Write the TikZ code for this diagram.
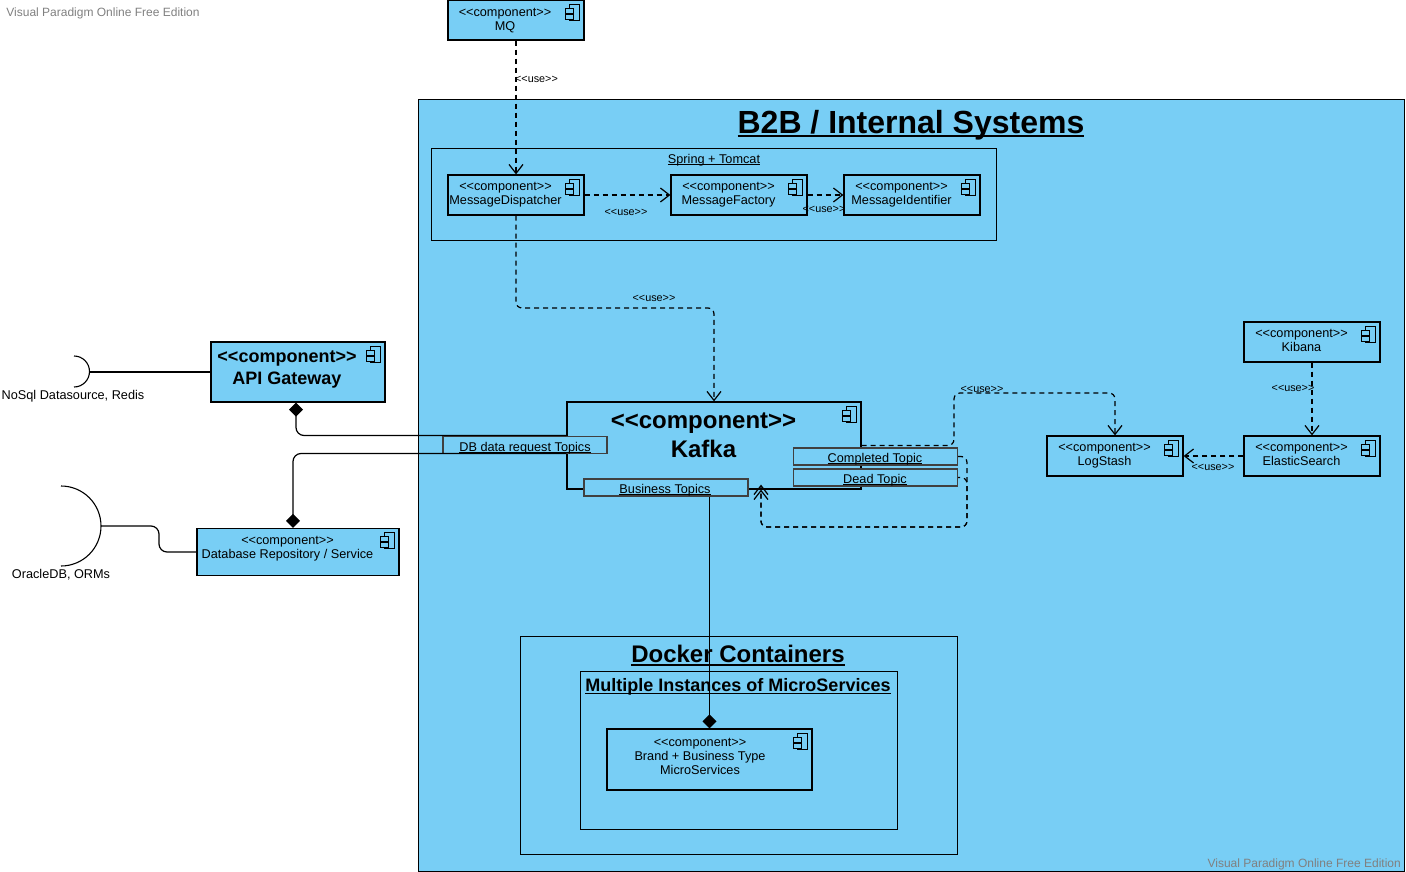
\documentclass[tikz,border=0pt]{standalone}
\usepackage{fontspec}
\setmainfont{Liberation Sans}
\usetikzlibrary{arrows.meta, positioning}
\definecolor{umlblue}{HTML}{78CEF5}
\newcommand{\stereo}[1]{<{}<#1>{}>}
\newsavebox{\headbox}
\newcommand{\heading}[3]{\sbox{\headbox}{#3}\rlap{\smash{\raisebox{-#2}{\rule{\wd\headbox}{#1}}}}\usebox{\headbox}}

\begin{document}
\begin{tikzpicture}[
  x=1pt, y=-1pt,
  frame/.style={rectangle, draw, line width=1pt, fill=umlblue, inner sep=0pt},
  box/.style={frame, line width=1.2pt},
  porta/.style={frame, draw=black!75, line width=1.2pt, minimum width=164pt, minimum height=17pt},
  boxtext/.style={align=center, inner sep=0pt, font=\fontsize{12.7}{14}\selectfont},
  bigtext/.style={align=center, inner sep=0pt, font=\fontsize{18}{22}\bfseries\selectfont},
  hugetext/.style={align=center, inner sep=0pt, font=\fontsize{24}{29}\bfseries\selectfont},
  small/.style={inner sep=0pt, font=\fontsize{10.8}{12}\selectfont},
  marktext/.style={inner sep=0pt, text=black!50, font=\fontsize{12}{14}\selectfont},
  wire/.style={line width=1.2pt, rounded corners=8pt},
  usedep/.style={line width=1.2pt, dash pattern=on 5pt off 4pt, rounded corners=6pt, -{Straight Barb[length=9pt,width=14pt]}},
  compo/.style={wire, {Diamond[length=14pt,width=14pt]}-}
]
\useasboundingbox (0,0) rectangle (1406,872);

% outer frames
\node[frame, minimum width=986pt, minimum height=772pt] (b2b) at (911.5,485.5) {};
\node[frame, minimum width=565pt, minimum height=91.5pt] (spring) at (714,194.5) {};
\node[frame, minimum width=437pt, minimum height=218pt] (docker) at (739,745.5) {};
\node[frame, minimum width=317pt, minimum height=158pt] (multi) at (739,750) {};
\node[inner sep=0pt, font=\fontsize{32}{38}\bfseries\selectfont] (b2btitle) at (911,125) {\heading{2.6pt}{4pt}{B2B / Internal Systems}};
\node[boxtext] (springtitle) at (714,160) {\heading{1pt}{2pt}{Spring + Tomcat}};
\node[hugetext] (dockertitle) at (738,654) {\heading{2pt}{3pt}{Docker Containers}};
\node[bigtext] (multititle) at (738,687) {\heading{1.6pt}{2.5pt}{Multiple Instances of MicroServices}};

% components
\node[box, minimum width=136pt, minimum height=40pt] (mq) at (516,20) {};
\node[box, minimum width=136pt, minimum height=40pt] (dispatcher) at (516,195) {};
\node[box, minimum width=136pt, minimum height=40pt] (factory) at (739,195) {};
\node[box, minimum width=136pt, minimum height=40pt] (identifier) at (912,195) {};
\node[box, minimum width=174pt, minimum height=60pt] (api) at (298,372) {};
\node[box, minimum width=202pt, minimum height=47pt] (repo) at (298,552) {};
\node[box, minimum width=294pt, minimum height=87pt] (kafka) at (714,445.5) {};
\node[box, minimum width=136pt, minimum height=40pt] (kibana) at (1312,342) {};
\node[box, minimum width=136pt, minimum height=40pt] (logstash) at (1115,456) {};
\node[box, minimum width=136pt, minimum height=40pt] (elastic) at (1312,456) {};
\node[box, minimum width=205pt, minimum height=61pt] (micro) at (709.5,759.5) {};

\foreach \n in {mq, dispatcher, factory, identifier, api, repo, kafka, kibana, logstash, elastic, micro} {
  \draw[line width=1pt, shift={(\n.north east)}] (-15,5) rectangle (-5,21);
  \draw[line width=1pt, shift={(\n.north east)}, fill=umlblue] (-19,9) rectangle (-11,14);
  \draw[line width=1pt, shift={(\n.north east)}, fill=umlblue] (-19,15) rectangle (-11,20);
}

\node[boxtext] (mqtext) at (505,20.5) {\stereo{component}\\MQ};
\node[boxtext] (dispatchertext) at (505.5,194.5) {\stereo{component}\\MessageDispatcher};
\node[boxtext] (factorytext) at (728.5,194.5) {\stereo{component}\\MessageFactory};
\node[boxtext] (identifiertext) at (901.5,194.5) {\stereo{component}\\MessageIdentifier};
\node[bigtext] (apitext) at (287,369) {\stereo{component}\\API Gateway};
\node[boxtext] (repotext) at (287.5,548.5) {\stereo{component}\\Database Repository / Service};
\node[hugetext] (kafkatext) at (703.5,435) {\stereo{component}\\Kafka};
\node[boxtext] (kibanatext) at (1301.5,340.5) {\stereo{component}\\Kibana};
\node[boxtext] (logstashtext) at (1104.5,455.5) {\stereo{component}\\LogStash};
\node[boxtext] (elastictext) at (1301.5,454.5) {\stereo{component}\\ElasticSearch};
\node[boxtext] (microtext) at (700,756) {\stereo{component}\\Brand + Business Type\\MicroServices};

% ports on kafka
\node[porta] (dbport) at (525,445) {};
\node[porta] (completed) at (875.5,456.5) {};
\node[porta] (dead) at (875.5,477.5) {};
\node[porta] (business) at (666,487.5) {};
\node[boxtext] (dbporttext) at (525,448) {\heading{1pt}{2pt}{DB data request Topics}};
\node[boxtext] (completedtext) at (875,459) {\heading{1pt}{2pt}{Completed Topic}};
\node[boxtext] (deadtext) at (875,480) {\heading{1pt}{2pt}{Dead Topic}};
\node[boxtext] (businesstext) at (665,490) {\heading{1pt}{2pt}{Business Topics}};

% required interfaces
\coordinate (nosql) at (89,372);
\coordinate (oracle) at (101,526);
\draw[line width=1.1pt] (74,356) arc[start angle=-90, end angle=90, radius=15.5];
\draw[line width=1.1pt] (61,486) arc[start angle=-90, end angle=90, radius=40];
\node[boxtext] (nosqltext) at (73,396.5) {NoSql Datasource, Redis};
\node[boxtext] (oracletext) at (61,575) {OracleDB, ORMs};
\draw[wire] (nosql) -- (api.west);
\draw[wire] (oracle) -| (159,552) -- (repo.west);

% connectors
\draw[usedep] (mq.south) -- (dispatcher.north);
\draw[usedep] (dispatcher.east) -- (factory.west);
\draw[usedep] (factory.east) -- (identifier.west);
\draw[usedep] (dispatcher.south) |- (714,308) -- (kafka.north);
\draw[usedep] (kibana.south) -- (elastic.north);
\draw[usedep] (elastic.west) -- (logstash.east);
\coordinate (logbend) at (954,393);
\draw[usedep] (kafka.east) -| (logbend) -| (logstash.north);
\coordinate (loopbend) at (967,527);
\draw[usedep] (completed.east) -| (loopbend) -| ([xshift=47pt]kafka.south);
\draw[usedep, dash phase=21pt] (dead.east) -| (loopbend) -| ([xshift=47pt,yshift=5pt]kafka.south);
\draw[compo] ([xshift=-2pt]api.south) |- ([yshift=10pt]kafka.west);
\draw[compo] ([xshift=-5pt]repo.north) |- ([yshift=-8pt]kafka.west);
\draw[compo] (micro.north) -- ([xshift=43.5pt]business.south);

% connector labels
\node[small] (uselabela) at (536.5,79.5) {\stereo{use}};
\node[small] (uselabelb) at (626,212.5) {\stereo{use}};
\node[small] (uselabelc) at (824,209.5) {\stereo{use}};
\node[small] (uselabeld) at (654,298.5) {\stereo{use}};
\node[small] (uselabele) at (982,389.5) {\stereo{use}};
\node[small] (uselabelf) at (1293,388.5) {\stereo{use}};
\node[small] (uselabelg) at (1213,467) {\stereo{use}};

% watermarks
\node[marktext] (marka) at (103,13.5) {Visual Paradigm Online Free Edition};
\node[marktext, anchor=east] (markb) at (1401,864.5) {Visual Paradigm Online Free Edition};

\end{tikzpicture}
\end{document}
